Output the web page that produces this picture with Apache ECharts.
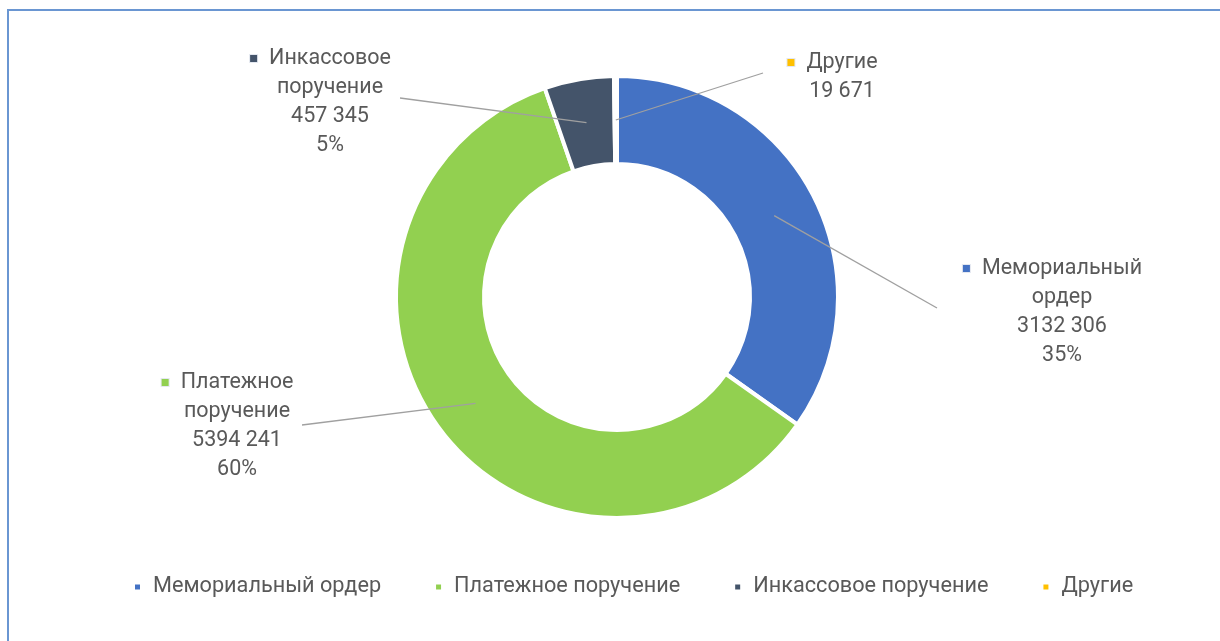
<!DOCTYPE html>
<html>
<head>
<meta charset="utf-8">
<script src="https://cdn.jsdelivr.net/npm/echarts@6/dist/echarts.min.js"></script>
<style>
  html, body { margin: 0; padding: 0; background: #ffffff; }
  #chart { position: absolute; left: 0; top: 0; width: 1220px; height: 641px; }
  #frame { position: absolute; left: 7px; top: 9px; width: 1213px; height: 632px;
           border-top: 2px solid #6a96d2; border-left: 2px solid #6a96d2; pointer-events: none; }
</style>
</head>
<body>
<div id="chart"></div>
<div id="frame"></div>
<script>
// Document types and their totals
const categories = ['Мемориальный ордер', 'Платежное поручение', 'Инкассовое поручение', 'Другие'];
const values = [3132306, 5394241, 457345, 19671];
const colors = ['#4472c4', '#92d050', '#44546a', '#ffc000'];
// Types whose label also shows the share
const showPercent = [true, true, true, false];

// Label anchors (centre of the text block) and where each leader line ends
const labelAnchors = [[1062, 312], [237, 426], [330, 102], [842, 77]];
const lineEnds = [[937, 308], [302, 425], [400, 98], [763, 73]];

const FONT = 'Roboto, "Liberation Sans", sans-serif';
const TEXT_COLOR = '#595959';
const total = values.reduce((a, b) => a + b, 0);

// "3132 306" style grouping: space between thousands, tight before millions
function fmtNumber(v) {
  const s = String(v);
  const groups = [];
  for (let i = s.length; i > 0; i -= 3) groups.unshift(s.slice(Math.max(0, i - 3), i));
  if (groups.length <= 2) return groups.join(' ');
  return groups[0] + groups.slice(1, -1).join('') + ' ' + groups[groups.length - 1];
}

const rich = {
  t: { fontFamily: FONT, fontSize: 21.5, color: TEXT_COLOR, lineHeight: 29 },
  g: { width: 12 },
  s: { width: 19 }
};
colors.forEach((c, i) => {
  rich['m' + i] = { width: 7, height: 7, backgroundColor: c, borderColor: '#e4e8f0', borderWidth: 1 };
});

const chart = echarts.init(document.getElementById('chart'), null, { renderer: 'canvas' });

const R_IN = 133, R_OUT = 219;
const CX = 617, CY = 297;

// Middle of the ring at the middle angle of a slice, taken from the pie layout
function midRingPoint(idx) {
  let lay = null;
  try {
    lay = chart.getModel().getSeriesByIndex(0).getData().getItemLayout(idx);
  } catch (e) { lay = null; }
  if (lay && lay.startAngle != null && lay.r0 != null) {
    const a = (lay.startAngle + lay.endAngle) / 2;
    const r = (lay.r + lay.r0) / 2;
    return [lay.cx + r * Math.cos(a), lay.cy + r * Math.sin(a)];
  }
  let before = 0;
  for (let i = 0; i < idx; i++) before += values[i];
  const frac = (before + values[idx] / 2) / total;
  const a = -Math.PI / 2 + frac * Math.PI * 2;
  const r = (R_IN + R_OUT) / 2;
  return [CX + r * Math.cos(a), CY + r * Math.sin(a)];
}

const option = {
  backgroundColor: '#ffffff',
  animation: false,
  color: colors,
  legend: {
    data: categories,
    left: 128,
    top: 570,
    icon: 'rect',
    itemWidth: 7,
    itemHeight: 7,
    itemGap: 53,
    textStyle: { fontFamily: FONT, fontSize: 21.7, color: TEXT_COLOR, padding: [0, 0, 0, 7], lineHeight: 24 }
  },
  series: [{
    type: 'pie',
    center: [CX, CY],
    radius: [R_IN, R_OUT + 2],
    startAngle: 90,
    clockwise: true,
    avoidLabelOverlap: false,
    itemStyle: { borderColor: '#ffffff', borderWidth: 4 },
    emphasis: { disabled: true },
    data: categories.map((name, i) => ({ name, value: values[i] })),
    label: {
      show: true,
      position: 'outside',
      align: 'center',
      rich: rich,
      formatter: (p) => {
        const i = p.dataIndex;
        const words = p.name.split(' ');
        const lines = ['{m' + i + '|}{g|}{t|' + words[0] + '}{s|}'];
        if (words.length > 1) lines.push('{t|' + words.slice(1).join(' ') + '}');
        lines.push('{t|' + fmtNumber(p.value) + '}');
        if (showPercent[i]) lines.push('{t|' + Math.round(p.value / total * 100) + '%}');
        return lines.join('\n');
      }
    },
    labelLine: { show: false },
    labelLayout: (p) => ({
      x: labelAnchors[p.dataIndex][0],
      y: labelAnchors[p.dataIndex][1],
      align: 'center',
      verticalAlign: 'middle'
    })
  }, {
    // Leader lines from the middle of each slice to its label
    type: 'custom',
    coordinateSystem: 'none',
    z: 5,
    silent: true,
    data: categories.map((_, i) => i),
    renderItem: (params, api) => {
      const i = api.value(0);
      return {
        type: 'polyline',
        shape: { points: [midRingPoint(i), lineEnds[i]] },
        style: { stroke: '#a0a0a0', lineWidth: 1.3, fill: null }
      };
    }
  }]
};

chart.setOption(option);
</script>
</body>
</html>
